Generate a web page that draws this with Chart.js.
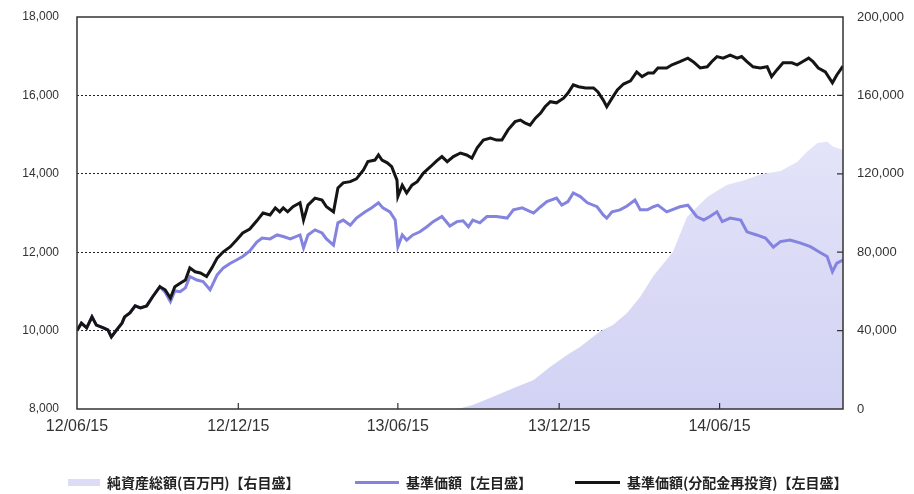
<!DOCTYPE html>
<html>
<head>
<meta charset="utf-8">
<script src="https://cdn.jsdelivr.net/npm/chart.js@4.4.0/dist/chart.umd.min.js"></script>
<style>
  html, body { margin: 0; padding: 0; background: #fff; }
  #wrap { position: relative; width: 914px; height: 494px; }
  .lg { position: absolute; top: 472px; height: 20px; display: flex; align-items: center;
        font-family: "Noto Sans CJK JP", sans-serif; font-size: 14px; font-weight: bold; color: #222; white-space: nowrap; }
  .sw { display: inline-block; margin-right: 7px; }
</style>
</head>
<body>
<div id="wrap">
  <canvas id="fundChart"></canvas>
  <div class="lg" style="left:68px"><span class="sw" id="sw0" style="width:32px;height:7px"></span><span id="lb0"></span></div>
  <div class="lg" style="left:355px"><span class="sw" id="sw1" style="width:44px;height:3px"></span><span id="lb1"></span></div>
  <div class="lg" style="left:575px"><span class="sw" id="sw2" style="width:45px;height:3px"></span><span id="lb2"></span></div>
</div>
<script>
// x values are days since 2012-06-15
const tickDays = [0, 183, 364, 547, 729];
const tickLabels = ['12/06/15', '12/12/15', '13/06/15', '13/12/15', '14/06/15'];
const lastDay = 869;

const seriesNames = ['純資産総額(百万円)【右目盛】', '基準価額【左目盛】', '基準価額(分配金再投資)【左目盛】'];

// 基準価額(分配金再投資)
const reinvDays = [0,5,11,17,22,30,35,39,45,51,54,60,66,72,79,86,94,100,106,111,117,123,128,134,140,147,153,159,166,174,181,188,196,204,211,219,225,230,234,239,245,253,257,262,270,278,283,291,296,302,310,317,325,330,338,342,346,352,357,363,364,369,374,380,386,393,401,408,414,420,427,435,442,448,454,461,469,476,482,489,497,503,508,514,520,526,531,537,544,552,557,563,569,577,586,591,597,601,607,613,620,628,635,641,648,654,659,669,675,684,693,699,707,715,720,726,733,741,749,754,760,767,775,783,788,794,801,811,817,823,830,835,841,849,857,862,869];
const reinvValues = [10000,10190,10070,10350,10140,10070,10020,9840,10020,10190,10350,10450,10630,10580,10630,10870,11120,11040,10830,11120,11210,11290,11600,11500,11470,11380,11600,11850,12010,12140,12310,12490,12590,12800,13000,12950,13130,13030,13130,13030,13160,13260,12820,13200,13380,13330,13160,13030,13640,13770,13800,13870,14100,14310,14350,14480,14350,14280,14180,13840,13420,13710,13510,13710,13800,14020,14180,14330,14440,14310,14440,14530,14480,14400,14660,14860,14910,14860,14860,15120,15330,15370,15300,15240,15420,15550,15710,15840,15810,15930,16060,16270,16220,16190,16190,16090,15880,15710,15930,16140,16290,16370,16600,16480,16570,16570,16700,16700,16780,16860,16950,16860,16700,16730,16860,16990,16950,17030,16950,16990,16860,16730,16700,16730,16480,16650,16830,16830,16780,16860,16950,16860,16700,16600,16320,16520,16750];

// 基準価額
const navDays = [0,5,11,17,22,30,35,39,45,51,54,60,66,72,79,86,94,100,106,111,117,123,128,136,143,151,159,166,174,181,188,196,204,210,219,227,234,242,253,257,262,270,278,283,291,296,302,310,317,327,334,342,347,355,361,364,369,374,381,389,397,404,414,423,431,438,444,449,457,465,476,488,495,505,518,526,533,544,550,557,563,571,579,590,597,601,607,616,624,633,639,647,654,659,669,684,693,703,711,718,726,732,741,753,760,771,781,790,798,809,821,832,844,851,857,862,869];
const navValues = [10000,10190,10070,10350,10140,10070,10020,9840,10020,10190,10350,10450,10630,10580,10630,10870,11120,10980,10740,11010,10990,11090,11380,11290,11250,11040,11420,11600,11720,11800,11890,12030,12260,12360,12340,12440,12400,12340,12440,12110,12440,12570,12490,12340,12180,12750,12820,12690,12870,13030,13130,13260,13130,13030,12820,12140,12440,12310,12440,12520,12650,12780,12910,12670,12780,12800,12650,12820,12750,12910,12910,12870,13080,13130,13000,13160,13290,13380,13200,13290,13510,13420,13260,13160,12950,12870,13030,13080,13180,13330,13080,13080,13160,13200,13030,13160,13200,12910,12820,12910,13030,12780,12870,12820,12520,12440,12360,12130,12270,12310,12230,12140,11980,11890,11500,11720,11800];

// 純資産総額(百万円)
const aumDays = [0,430,435,449,472,499,518,537,556,571,594,608,624,639,654,676,692,715,737,758,777,798,817,828,840,851,858,869];
const aumValues = [0,0,400,2040,6280,11380,14800,21580,27550,31790,39800,42860,48980,57300,68000,80100,97960,108160,114280,116840,119900,121430,126020,131120,135710,136380,133830,132140];

const aumColor = '#dcdcf6';
const navColor = '#8484e0';
const reinvColor = '#151515';
const frameColor = '#333';

function toPoints(days, values) {
    return days.map((d, i) => ({ x: d, y: values[i] }));
}

// legend (html)
[aumColor, navColor, reinvColor].forEach((c, i) => {
    document.getElementById('sw' + i).style.background = c;
    document.getElementById('lb' + i).textContent = seriesNames[i];
});

// border box + inward tick marks
const framePlugin = {
    id: 'frame',
    afterDatasetsDraw(chart) {
        const { ctx, chartArea: a, scales } = chart;
        ctx.save();
        ctx.strokeStyle = frameColor;
        ctx.lineWidth = 1.5;
        ctx.strokeRect(a.left, a.top, a.right - a.left, a.bottom - a.top);
        ctx.lineWidth = 1.2;
        ctx.beginPath();
        scales.x.ticks.forEach(t => {
            const px = scales.x.getPixelForValue(t.value);
            if (px <= a.left + 1 || px >= a.right - 1) return;
            ctx.moveTo(px, a.bottom);
            ctx.lineTo(px, a.bottom - 6);
        });
        scales.y2.ticks.forEach(t => {
            const py = scales.y2.getPixelForValue(t.value);
            if (py <= a.top + 1 || py >= a.bottom - 1) return;
            ctx.moveTo(a.right, py);
            ctx.lineTo(a.right - 6, py);
        });
        ctx.stroke();
        ctx.restore();
    }
};

function fitVertical(width) {
    return (s) => {
        s.width = width;
        s.paddingTop = 0;
        s.paddingBottom = 0;
    };
}

new Chart(document.getElementById('fundChart'), {
    type: 'line',
    data: {
        datasets: [{
            label: seriesNames[0],
            data: toPoints(aumDays, aumValues),
            yAxisID: 'y2',
            fill: 'origin',
            borderWidth: 0,
            borderColor: 'rgba(0,0,0,0)',
            backgroundColor: (c) => {
                const a = c.chart.chartArea;
                if (!a) return aumColor;
                const g = c.chart.ctx.createLinearGradient(0, a.top, 0, a.bottom);
                g.addColorStop(0, '#ebebfb');
                g.addColorStop(1, '#d2d2f4');
                return g;
            },
            pointRadius: 0,
            order: 3
        }, {
            label: seriesNames[1],
            data: toPoints(navDays, navValues),
            yAxisID: 'y',
            borderColor: navColor,
            borderWidth: 3,
            pointRadius: 0,
            tension: 0,
            order: 2
        }, {
            label: seriesNames[2],
            data: toPoints(reinvDays, reinvValues),
            yAxisID: 'y',
            borderColor: reinvColor,
            borderWidth: 3,
            pointRadius: 0,
            tension: 0,
            order: 1
        }]
    },
    options: {
        responsive: true,
        maintainAspectRatio: false,
        animation: false,
        layout: { padding: { top: 17, left: 0, right: 0, bottom: 55 } },
        plugins: {
            tooltip: { enabled: false },
            legend: { display: false }
        },
        scales: {
            x: {
                type: 'linear',
                min: 0,
                max: lastDay,
                afterBuildTicks: (s) => { s.ticks = tickDays.map(v => ({ value: v })); },
                afterFit: (s) => { s.height = 30; },
                grid: { display: false, drawTicks: false },
                border: { display: false },
                ticks: {
                    color: '#333',
                    font: { family: '"Liberation Sans", Arial, sans-serif', size: 16 },
                    padding: 8,
                    maxRotation: 0,
                    callback: (v) => tickLabels[tickDays.indexOf(v)]
                }
            },
            y: {
                position: 'left',
                min: 8000,
                max: 18000,
                afterFit: fitVertical(77),
                ticks: {
                    stepSize: 2000,
                    color: '#333',
                    font: { family: '"Liberation Sans", Arial, sans-serif', size: 12 },
                    padding: 18,
                    callback: (v) => v.toLocaleString('en-US')
                },
                grid: {
                    drawTicks: false,
                    lineWidth: 1,
                    color: (c) => (c.tick && c.tick.value > 8000 && c.tick.value < 18000) ? '#222' : 'rgba(0,0,0,0)'
                },
                border: { display: false, dash: [2, 2] }
            },
            y2: {
                position: 'right',
                min: 0,
                max: 200000,
                afterFit: fitVertical(71),
                ticks: {
                    stepSize: 40000,
                    color: '#333',
                    font: { family: '"Liberation Sans", Arial, sans-serif', size: 13 },
                    padding: 14,
                    callback: (v) => v.toLocaleString('en-US')
                },
                grid: { drawOnChartArea: false, drawTicks: false },
                border: { display: false }
            }
        }
    },
    plugins: [framePlugin]
});
</script>
</body>
</html>
